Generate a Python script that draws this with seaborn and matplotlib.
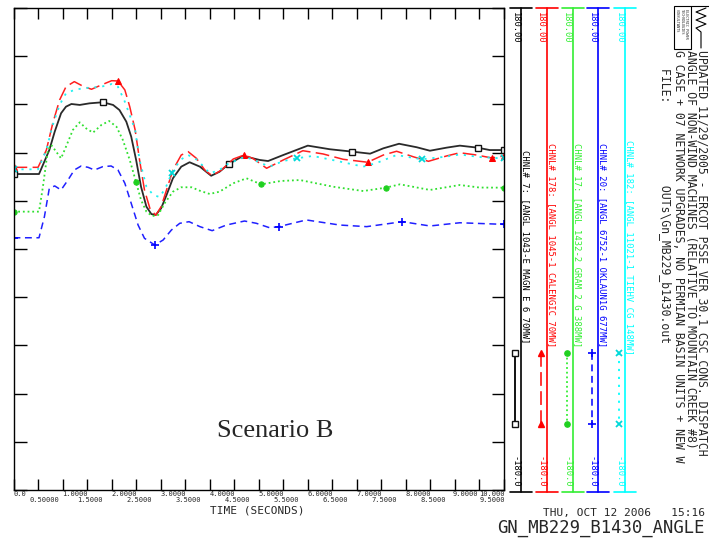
import numpy as np
import matplotlib
matplotlib.use("Agg")
import matplotlib.pyplot as plt
import seaborn as sns
from matplotlib.patches import Rectangle

# ---------------- data (degrees vs seconds) ----------------
t_black = [0, 0.52, 0.73, 0.84, 0.97, 1.07, 1.18, 1.35, 1.55, 1.82, 2.03, 2.16, 2.3, 2.4, 2.5,
           2.6, 2.71, 2.81, 2.9, 3.01, 3.12, 3.25, 3.42, 3.59, 3.8, 4.03, 4.2, 4.39, 4.68, 5.02,
           5.19, 5.5, 6.0, 6.45, 6.91, 7.27, 7.54, 7.86, 8.22, 8.49, 8.83, 9.1, 9.46, 9.71, 10.0]
v_black = [56.0, 56.0, 73.9, 87.6, 101.4, 106.3, 108.3, 107.6, 108.8, 109.6, 107.6, 103.8, 95.1, 83.9, 66.5,
           46.5, 31.6, 26.1, 25.4, 30.4, 40.3, 52.8, 61.5, 64.8, 61.5, 54.7, 57.7, 63.5, 69.5, 66.5,
           65.7, 70.2, 77.2, 74.5, 72.7, 71.2, 75.2, 78.6, 76.0, 73.4, 75.7, 77.2, 75.7, 73.9, 73.9]
mk_black = [0, 1.82, 4.39, 6.91, 9.46, 10.0]

t_red = [0, 0.5, 0.67, 0.8, 0.94, 1.07, 1.24, 1.41, 1.59, 1.79, 2.0, 2.13, 2.27, 2.37, 2.48, 2.57,
         2.67, 2.78, 2.9, 3.01, 3.12, 3.25, 3.42, 3.56, 3.73, 3.9, 4.05, 4.24, 4.48, 4.7, 4.88,
         5.16, 5.5, 5.9, 6.31, 6.72, 7.22, 7.54, 7.81, 8.15, 8.46, 8.83, 9.1, 9.44, 9.75, 10.0]
v_red = [61.0, 61.0, 73.9, 93.9, 111.3, 121.2, 125.0, 121.7, 119.3, 122.5, 125.7, 125.5, 118.8, 106.3,
         88.9, 66.5, 44.1, 30.4, 25.2, 31.6, 44.1, 59.0, 70.2, 72.7, 67.7, 59.0, 54.7, 59.0, 67.2,
         70.2, 67.7, 60.3, 66.5, 73.4, 71.0, 67.0, 64.8, 70.2, 73.0, 68.9, 65.5, 69.5, 71.9, 70.2,
         68.0, 69.5]
mk_red = [0, 2.13, 4.7, 7.22, 9.75, 10.0]

t_green = [0, 0.52, 0.6, 0.7, 0.77, 0.87, 0.97, 1.07, 1.21, 1.35, 1.48, 1.62, 1.79, 1.95, 2.1,
           2.23, 2.37, 2.5, 2.6, 2.71, 2.83, 2.95, 3.08, 3.25, 3.42, 3.63, 3.8, 4.0, 4.2, 4.48,
           4.75, 5.05, 5.45, 5.84, 6.52, 7.13, 7.59, 7.88, 8.49, 9.1, 9.5, 10.0]
v_green = [27.9, 27.9, 46.5, 73.9, 77.7, 72.7, 67.7, 76.4, 88.9, 94.6, 90.1, 86.9, 92.6, 95.6, 91.3,
           81.4, 66.5, 49.8, 36.6, 27.9, 24.6, 25.4, 34.1, 42.8, 46.1, 46.1, 43.5, 41.1, 42.8, 49.1,
           52.8, 48.3, 50.8, 51.5, 46.5, 43.3, 45.8, 48.3, 44.1, 47.8, 45.9, 45.8]
mk_green = [0, 2.5, 5.05, 7.59, 10.0]

t_blue = [0, 0.52, 0.63, 0.73, 0.84, 0.97, 1.11, 1.24, 1.38, 1.52, 1.65, 1.82, 1.99, 2.13, 2.27,
          2.4, 2.54, 2.67, 2.88, 3.05, 3.22, 3.39, 3.58, 3.8, 4.05, 4.34, 4.71, 4.95, 5.22, 5.41,
          5.97, 6.65, 7.2, 7.93, 8.49, 9.1, 10.0]
v_blue = [8.4, 8.4, 24.1, 45.3, 47.1, 44.1, 51.5, 59.0, 62.0, 61.0, 59.0, 61.5, 62.0, 59.0, 49.1,
          34.1, 17.9, 8.0, 3.0, 6.7, 14.2, 19.2, 20.4, 16.7, 13.7, 17.9, 20.9, 19.2, 15.9, 16.7,
          21.7, 17.9, 16.7, 20.4, 17.2, 19.6, 18.4]
mk_blue = [0, 2.88, 5.41, 7.93, 10.0]

t_cyan = [0, 0.5, 0.67, 0.8, 0.94, 1.07, 1.24, 1.41, 1.79, 2.0, 2.13, 2.27, 2.48, 2.57, 2.71,
          2.85, 2.98, 3.1, 3.23, 3.4, 3.56, 3.75, 4.0, 4.2, 4.37, 4.72, 4.95, 5.22, 5.5, 5.77,
          6.1, 6.5, 7.13, 7.4, 7.81, 8.32, 8.8, 9.1, 9.5, 10.0]
v_cyan = [59.5, 59.5, 73.9, 92.6, 107.6, 116.3, 118.8, 120.0, 121.2, 123.2, 121.2, 110.0, 88.9,
          66.5, 46.5, 40.3, 38.8, 45.6, 57.0, 66.5, 70.2, 66.5, 56.5, 59.0, 63.5, 68.9, 65.7,
          61.5, 65.7, 67.7, 69.5, 66.5, 61.5, 64.2, 70.2, 67.0, 68.9, 70.6, 68.7, 67.6]
mk_cyan = [0, 3.23, 5.77, 8.32, 10.0]

channel_labels = ["CHNL# 7: [ANGL 1043-E MAGN E 6 70MW]",
                  "CHNL# 178: [ANGL 1045-1 CALENGIC 70MW]",
                  "CHNL# 17: [ANGL 1432-2 GRAM 2 G 388MW]",
                  "CHNL# 20: [ANGL 6752-1 OKLAUN1G 677MW]",
                  "CHNL# 182: [ANGL 11021-1 TIEHV CG 148MW]"]
scale_top = "180.00"
scale_bot = "-180.0"

xtick_int = [0, 1, 2, 3, 4, 5, 6, 7, 8, 9, 10]
xlab_int = ["0.0", "1.0000", "2.0000", "3.0000", "4.0000", "5.0000", "6.0000", "7.0000",
            "8.0000", "9.0000", "10.000"]
xtick_half = [0.5, 1.5, 2.5, 3.5, 4.5, 5.5, 6.5, 7.5, 8.5, 9.5]
xlab_half = ["0.50000", "1.5000", "2.5000", "3.5000", "4.5000", "5.5000", "6.5000", "7.5000",
             "8.5000", "9.5000"]

header = ["UPDATED 11/29/2005 - ERCOT PSSE VER 30.1 CSC CONS. DISPATCH",
          "ANGLE OF NON-WIND MACHINES (RELATIVE TO MOUNTAIN CREEK #8)",
          "G CASE + 07 NETWORK UPGRADES, NO PERMIAN BASIN UNITS + NEW W"]
file_line = "FILE:            OUTs\\Gn_MB229_b1430.out"

# ---------------- styling ----------------
sns.set_theme(style="white")
MONO = ['DejaVu Sans Mono', 'DejaVu Sans']
plt.rcParams['font.family'] = MONO

W, H = 709, 540
fig = plt.figure(figsize=(W / 100, H / 100), dpi=100)
fig.patch.set_facecolor('white')


def fa(x0, y0, x1, y1):
    return [x0 / W, 1 - y1 / H, (x1 - x0) / W, (y1 - y0) / H]


ax = fig.add_axes(fa(13.5, 8, 504, 490))
ax.set_facecolor('white')

styles = [
    dict(color='#2a2a2a', lw=1.3, linestyle='-', marker='s', ms=4, mfc='white', mec='#111111', mew=1.0),
    dict(color='#ff2020', lw=1.1, linestyle=(0, (9, 3.5)), marker='^', ms=4.5, mfc='#ff0000', mec='#ff0000'),
    dict(color='#30e030', lw=1.3, linestyle=(0, (1.0, 1.6)), marker='o', ms=3.8, mfc='#20d020', mec='#20d020'),
    dict(color='#2020ff', lw=1.1, linestyle=(0, (4.5, 3.0)), marker='+', ms=6, mec='#0000ff', mew=1.2),
    dict(color='#20f0f0', lw=1.3, linestyle=(0, (1.2, 3.2)), marker='x', ms=4, mec='#00d8d8', mew=1.3),
]
series = [(t_black, v_black, mk_black), (t_red, v_red, mk_red), (t_green, v_green, mk_green),
          (t_blue, v_blue, mk_blue), (t_cyan, v_cyan, mk_cyan)]

for (t, v, mk), st in zip(series, styles):
    idx = np.flatnonzero(np.isin(t, mk)).tolist()
    sns.lineplot(x=t, y=v, ax=ax, markevery=idx, **st)

ax.set_xlim(0, 10)
ax.set_ylim(-180, 180)
ax.set_xticks(np.arange(0, 10.01, 0.5))
ax.set_yticks(np.arange(-180, 181, 36))
ax.tick_params(axis='x', direction='in', top=True, bottom=True, length=8, width=1.0,
               color='black', labelbottom=False)
ax.tick_params(axis='y', direction='in', left=True, right=True, length=9, width=1.0,
               color='black', labelleft=False)
ax.set_xlabel('')
ax.set_ylabel('')
for s in ax.spines.values():
    s.set_color('black')
    s.set_linewidth(1.0)

# x tick labels (two rows)
TFS = 5.0
xt = ax.get_xaxis_transform()
for tv, lab in zip(xtick_int, xlab_int):
    if tv == xtick_int[-1]:
        ha, dx = 'right', 1
    elif tv == xtick_int[-2]:
        ha, dx = 'left', -2
    else:
        ha, dx = 'left', 0
    ax.annotate(lab, xy=(tv, 0), xycoords=xt, xytext=(dx, -3.5), textcoords='offset pixels',
                ha=ha, va='center', fontsize=TFS, annotation_clip=False)
for i, (tv, lab) in enumerate(zip(xtick_half, xlab_half)):
    if i == 0:
        ha, dx = 'left', -9
    elif i == len(xtick_half) - 1:
        ha, dx = 'left', 0
    else:
        ha, dx = 'center', 3
    ax.annotate(lab, xy=(tv, 0), xycoords=xt, xytext=(dx, -10.5), textcoords='offset pixels',
                ha=ha, va='center', fontsize=TFS, annotation_clip=False)

ax.text(0.497, -0.042, "TIME (SECONDS)", transform=ax.transAxes, ha='center', va='center',
        fontsize=8)
ax.text(0.533, 0.122, "Scenario B", transform=ax.transAxes, ha='center', va='center',
        fontsize=19, family='Liberation Serif')

# ---------------- overlay (legend panel, header) in pixel coords ----------------
ov = fig.add_axes([0, 0, 1, 1])
ov.set_xlim(0, W)
ov.set_ylim(H, 0)
ov.axis('off')
ov.patch.set_visible(False)

scale_x = [521, 546.7, 572.7, 598, 625]
leg_colors = ['black', '#ff0000', '#33ee33', '#0000ff', '#00ffff']
label_start = [150, 143, 143, 143, 140]
for k, (xx, c) in enumerate(zip(scale_x, leg_colors)):
    ov.plot([xx, xx], [8, 492], color=c, lw=1.2)
    ov.plot([xx - 11, xx + 11], [8, 8], color=c, lw=1.2)
    ov.plot([xx - 11, xx + 11], [492, 492], color=c, lw=1.2)
    ov.text(xx - 6, 12, scale_top, rotation=-90, ha='center', va='top', color=c, fontsize=6.3)
    ov.text(xx - 6, 487, scale_bot, rotation=-90, ha='center', va='bottom', color=c, fontsize=6.3)
    ov.text(xx + 4.8, label_start[k], channel_labels[k], rotation=-90, ha='center', va='top',
            color=c, fontsize=6.4)
    st = dict(styles[k])
    st['color'] = c
    ov.plot([xx - 6, xx - 6], [353, 424], **st)

# header (one block of three lines + file line)
ov.text(690.5, 50, "\n".join(header), rotation=-90, ha='center', va='top',
        multialignment='left', linespacing=0.86, fontsize=8.3)
ov.text(665, 68, file_line, rotation=-90, ha='center', va='top', fontsize=8.3)

# logo
ov.add_patch(Rectangle((674, 6), 17, 43, fill=False, lw=0.8, ec='black'))
for k, s in enumerate(["ELECTRIC POWER", "TECHNOLOGIES", "CONSULTANTS"]):
    ov.text(686 - k * 4.5, 9, s, rotation=-90, ha='center', va='top', fontsize=2.6)
ov.plot([706, 696, 706, 696, 706, 696, 701, 701], [8, 12, 16, 20, 24, 28, 32, 48],
        color='black', lw=0.8)
ov.plot([691, 709], [6, 6], color='black', lw=0.8)

# footer
ov.text(705, 513, "THU, OCT 12 2006   15:16", ha='right', va='center', fontsize=8)
ov.text(705, 528, "GN_MB229_B1430_ANGLE", ha='right', va='center', fontsize=12.4)

fig.savefig('out.png', dpi=100, facecolor='white')
